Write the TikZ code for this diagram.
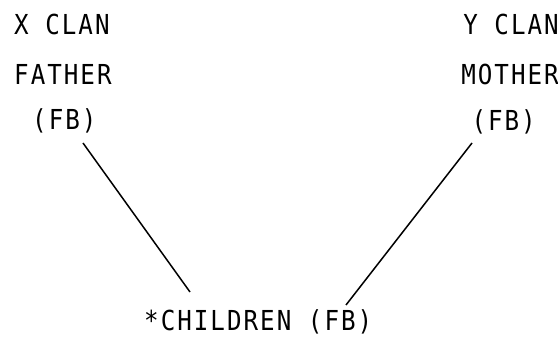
\documentclass[tikz,border=0pt]{standalone}
\usepackage{fontspec}
\newfontfamily\typew[FakeStretch=0.88,LetterSpace=7.3]{DejaVu Sans Mono}
\begin{document}
\begin{tikzpicture}[x=1pt,y=-1pt,
  lbl/.style={inner sep=0pt, font=\fontsize{27.5}{30}\selectfont\typew},
  link/.style={line width=1.5pt}]
\useasboundingbox (0,0) rectangle (558,337);
\node[lbl, anchor=base west] (xclan) at (14,35) {X CLAN};
\node[lbl, anchor=base west] (father) at (14,85) {FATHER};
\node[lbl, anchor=base west] (fbl) at (32,130) {(FB)};
\node[lbl, anchor=base east] (yclan) at (559,35) {Y CLAN};
\node[lbl, anchor=base east] (mother) at (559,85) {MOTHER};
\node[lbl, anchor=base east] (fbr) at (536,131) {(FB)};
\node[lbl, anchor=base west] (children) at (144,330) {*CHILDREN (FB)};
\coordinate (lt) at (83,143);
\coordinate (lb) at (190,292);
\coordinate (rt) at (472,143);
\coordinate (rb) at (346,305);
\draw[link] (lt) -- (lb);
\draw[link] (rt) -- (rb);
\end{tikzpicture}
\end{document}
